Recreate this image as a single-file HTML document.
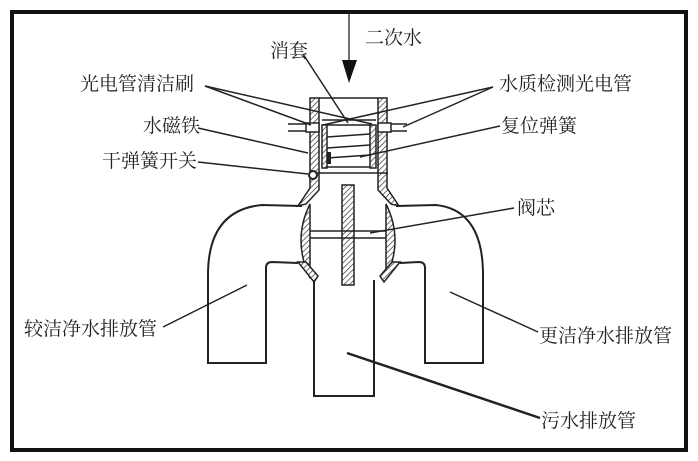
<!DOCTYPE html>
<html><head><meta charset="utf-8">
<style>
html,body{margin:0;padding:0;background:#fff;}
svg{display:block;}
text{font-family:"Liberation Serif","Noto Serif CJK SC","Noto Sans CJK SC",serif;font-size:19px;fill:#222;}
</style></head><body>
<svg width="698" height="461" viewBox="0 0 698 461" xmlns="http://www.w3.org/2000/svg">
<defs>
<pattern id="h" patternUnits="userSpaceOnUse" width="4" height="4" patternTransform="rotate(45)">
<rect width="4" height="4" fill="#fff"/><line x1="0" y1="0" x2="0" y2="4" stroke="#333" stroke-width="1.4"/>
</pattern>
</defs>
<rect x="12" y="12" width="674" height="438" fill="none" stroke="#111" stroke-width="4"/>

<g stroke="#222" stroke-width="2" fill="none">
<path d="M302,206 L262,205 Q208,210 208,275 L208,363 L266,363 L266,268 Q266,262 272,262 L298,263"/>
<path d="M396,206 L436,205 Q483,210 483,275 L483,363 L425,363 L425,268 Q425,262 419,262 L400,263"/>
<path d="M314,280 L314,396 L374,396 L374,280"/>
</g>

<g stroke="#222" stroke-width="1.5" fill="url(#h)">
<path d="M310,204 Q292,240 310,278 Z"/>
<path d="M386,204 Q404,240 386,278 Z"/>
<path d="M310,172 L319,172 L319,190 L306,204 L298,206 L310,188 Z"/>
<path d="M387,172 L378,172 L378,190 L391,204 L399,206 L387,188 Z"/>
<path d="M298,262 L306,262 L318,276 L314,282 Z"/>
<path d="M400,262 L392,262 L380,276 L384,282 Z"/>
<rect x="310" y="98" width="9" height="75"/>
<rect x="378" y="98" width="9" height="75"/>
<rect x="322" y="125" width="5" height="43"/>
<rect x="370" y="125" width="6" height="43"/>
<rect x="342" y="185" width="12" height="100"/>
</g>
<g stroke="#222" stroke-width="1.5" fill="none">
<line x1="319" y1="98" x2="378" y2="98"/>
<line x1="319" y1="173" x2="378" y2="173"/>
<line x1="327" y1="167" x2="370" y2="167"/>
<line x1="327" y1="125" x2="370" y2="125"/>
<line x1="322" y1="120" x2="376" y2="120"/>
<line x1="327" y1="137" x2="370" y2="134"/>
<line x1="327" y1="148" x2="370" y2="145"/>
<line x1="327" y1="158" x2="370" y2="155"/>
<line x1="288" y1="124" x2="310" y2="124"/>
<line x1="288" y1="131" x2="310" y2="131"/>
<line x1="387" y1="124" x2="407" y2="124"/>
<line x1="387" y1="131" x2="407" y2="131"/>
<line x1="310" y1="231" x2="386" y2="231"/>
<line x1="310" y1="238" x2="386" y2="238"/>
</g>
<rect x="306" y="123" width="13" height="9" fill="#fff" stroke="#222" stroke-width="1.5"/>
<rect x="378" y="123" width="13" height="9" fill="#fff" stroke="#222" stroke-width="1.5"/>
<rect x="327" y="152" width="4" height="12" fill="#222"/>
<circle cx="313" cy="175" r="4" fill="#fff" stroke="#222" stroke-width="2"/>

<line x1="349" y1="14" x2="349" y2="62" stroke="#222" stroke-width="1.3"/>
<polygon points="342,60 357,60 349,83" fill="#111"/>

<g stroke="#222" stroke-width="1.5">
<line x1="205" y1="86" x2="311" y2="125"/>
<line x1="205" y1="86" x2="372" y2="124"/>
<line x1="493" y1="87" x2="323" y2="125"/>
<line x1="493" y1="87" x2="403" y2="127"/>
<line x1="303" y1="54" x2="348" y2="123"/>
<line x1="198" y1="128" x2="308" y2="153"/>
<line x1="500" y1="126" x2="360" y2="157"/>
<line x1="198" y1="162" x2="308" y2="174"/>
<line x1="514" y1="208" x2="370" y2="233"/>
<line x1="163" y1="327" x2="247" y2="285"/>
<line x1="450" y1="292" x2="538" y2="332"/>
<line x1="347" y1="353" x2="540" y2="418" stroke-width="2.5"/>
</g>

<text x="365" y="44">二次水</text>
<text x="270" y="57">消套</text>
<text x="80" y="90">光电管清洁刷</text>
<text x="499" y="90">水质检测光电管</text>
<text x="143" y="132">水磁铁</text>
<text x="501" y="132">复位弹簧</text>
<text x="102" y="167">干弹簧开关</text>
<text x="517" y="214">阀芯</text>
<text x="24" y="335">较洁净水排放管</text>
<text x="539" y="342">更洁净水排放管</text>
<text x="541" y="427">污水排放管</text>
</svg>
</body></html>
